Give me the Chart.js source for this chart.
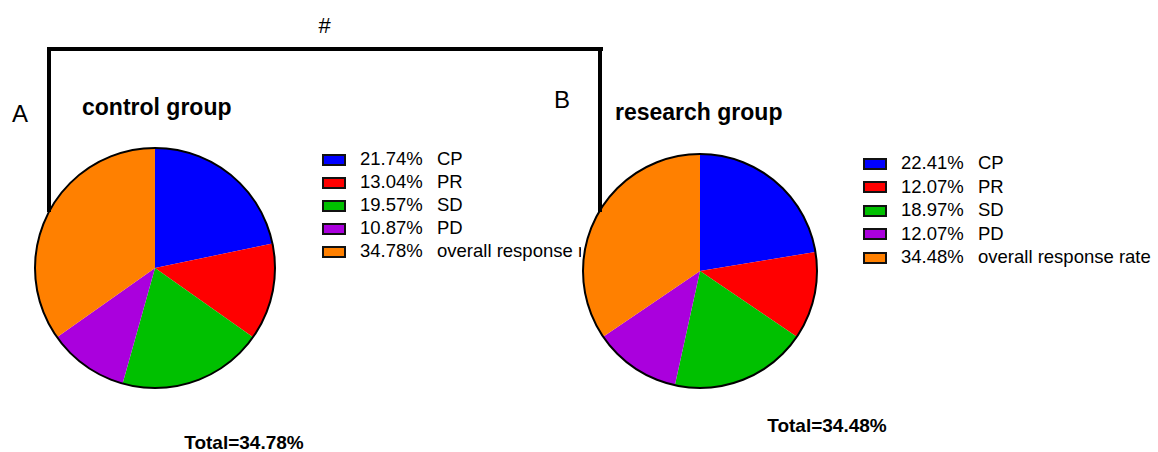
<!DOCTYPE html>
<html>
<head>
<meta charset="utf-8">
<script src="https://cdn.jsdelivr.net/npm/chart.js@4/dist/chart.umd.min.js"></script>
<style>
  html, body { margin:0; padding:0; background:#fff; }
  #stage { position:relative; width:1158px; height:452px; overflow:hidden; font-family:"Liberation Sans", Arial, sans-serif; color:#000; }
  .txt { position:absolute; line-height:1; white-space:nowrap; }
  .bar { position:absolute; background:#000; z-index:5; }
  canvas { position:absolute; }
  #pie-research { background:#fff; z-index:3; }
  .box { position:absolute; box-sizing:border-box; border:2px solid #111; width:24px; height:12px; }
</style>
</head>
<body>
<div id="stage">
  <!-- significance bracket -->
  <div class="bar" style="left:47px; top:47px; width:556px; height:4px;"></div>
  <div class="bar" style="left:47px; top:47px; width:4px; height:165px;"></div>
  <div class="bar" style="left:598px; top:47px; width:4px; height:165px;"></div>
  <div class="txt" style="left:300px; width:49px; text-align:center; top:15px; font-size:22px;">#</div>

  <div class="txt" style="left:12px; top:102px; font-size:24px;">A</div>
  <div class="txt" style="left:554px; top:88px; font-size:24px;">B</div>
  <div class="txt" style="left:82px; top:96px; font-size:23px; font-weight:bold;">control group</div>
  <div class="txt" style="left:615px; top:101px; font-size:23px; font-weight:bold;">research group</div>

  <canvas id="pie-control" width="244" height="244" style="left:33px; top:146px;"></canvas>
  <canvas id="pie-research" width="238" height="238" style="left:581px; top:152px;"></canvas>

  <div id="legend-control"></div>
  <div id="legend-research"></div>
  <div id="total-control" class="txt" style="left:144px; width:200px; text-align:center; top:433px; font-size:19px; font-weight:bold;"></div>
  <div id="total-research" class="txt" style="left:727px; width:200px; text-align:center; top:416px; font-size:19px; font-weight:bold;"></div>
</div>

<script>
// 0) data
const CATEGORIES      = ['CP', 'PR', 'SD', 'PD', 'overall response rate'];
const CONTROL_VALUES  = [21.74, 13.04, 19.57, 10.87, 34.78];
const RESEARCH_VALUES = [22.41, 12.07, 18.97, 12.07, 34.48];
const SLICE_COLORS    = ['#0000ff', '#ff0000', '#00c000', '#aa00dd', '#ff8000'];
const TOTAL_LABELS    = ['Total=34.78%', 'Total=34.48%'];

// black rim around the whole pie (no seams between slices)
const outlinePlugin = {
  id: 'outline',
  afterDatasetsDraw(chart) {
    const arc = chart.getDatasetMeta(0).data[0];
    if (!arc) return;
    const ctx = chart.ctx;
    ctx.save();
    ctx.beginPath();
    ctx.arc(arc.x, arc.y, arc.outerRadius, 0, Math.PI * 2);
    ctx.lineWidth = 2;
    ctx.strokeStyle = '#000';
    ctx.stroke();
    ctx.restore();
  }
};

function drawPie(id, values) {
  const ctx = document.getElementById(id).getContext('2d');
  return new Chart(ctx, {
    type: 'pie',
    data: {
      labels: CATEGORIES,
      datasets: [{ data: values, backgroundColor: SLICE_COLORS, borderWidth: 0 }]
    },
    options: {
      responsive: false,
      animation: false,
      devicePixelRatio: 1,
      layout: { padding: 2 },
      plugins: { legend: { display: false }, tooltip: { enabled: false } }
    },
    plugins: [outlinePlugin]
  });
}

// legend rows: box + percentage + category name
function drawLegend(id, values, boxX, base0, step) {
  const el = document.getElementById(id);
  el.innerHTML = values.map((v, i) => {
    const base = base0 + i * step;
    const top  = base - 0.8465 * 18.5;
    return `<div class="box" style="left:${boxX}px; top:${(base - 12.5).toFixed(1)}px; background:${SLICE_COLORS[i]};"></div>` +
           `<div class="txt" style="left:${boxX + 38}px; top:${top.toFixed(1)}px; font-size:18.5px;">${v.toFixed(2)}%</div>` +
           `<div class="txt" style="left:${boxX + 115}px; top:${top.toFixed(1)}px; font-size:18.5px;">${CATEGORIES[i]}</div>`;
  }).join('');
}

drawPie('pie-control', CONTROL_VALUES);
drawPie('pie-research', RESEARCH_VALUES);
drawLegend('legend-control', CONTROL_VALUES, 322, 166, 23);
drawLegend('legend-research', RESEARCH_VALUES, 863, 170, 23.5);
document.getElementById('total-control').textContent  = TOTAL_LABELS[0];
document.getElementById('total-research').textContent = TOTAL_LABELS[1];
</script>
</body>
</html>
